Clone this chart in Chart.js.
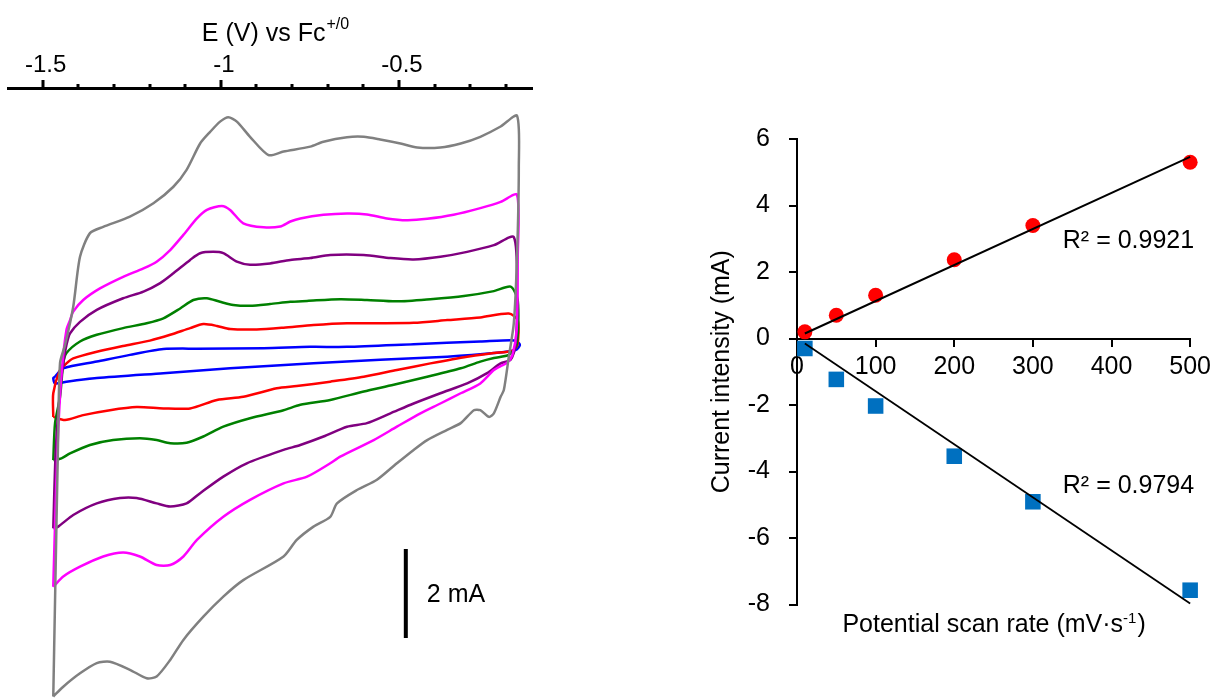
<!DOCTYPE html>
<html>
<head>
<meta charset="utf-8">
<script src="https://cdn.jsdelivr.net/npm/chart.js@4.4.0/dist/chart.umd.min.js"></script>
<style>
  body { margin: 0; background: #fff; }
  #cv { position: absolute; left: 0; top: 0; }
  #rate { position: absolute; left: 640px; top: 0; }
</style>
</head>
<body>
<canvas id="cv" width="560" height="698"></canvas>
<canvas id="rate" width="578" height="698"></canvas>
<script>
// cyclic voltammograms, [E (V vs Fc), I (mA)] walked round each loop
var cvGray = [[-1.470,-7.77],[-1.465,-5.61],[-1.457,-2.24],[-1.451,-0.29],[-1.437,0.11],[-1.414,0.97],[-1.395,2.09],[-1.367,2.62],[-1.330,2.76],[-1.255,2.99],[-1.189,3.29],[-1.133,3.66],[-1.096,4.04],[-1.058,4.63],[-1.030,4.89],[-1.002,5.12],[-0.979,5.22],[-0.955,5.12],[-0.918,4.78],[-0.866,4.37],[-0.824,4.45],[-0.749,4.56],[-0.712,4.67],[-0.646,4.77],[-0.599,4.78],[-0.553,4.72],[-0.496,4.63],[-0.449,4.54],[-0.384,4.54],[-0.327,4.63],[-0.272,4.78],[-0.215,5.01],[-0.169,5.25],[-0.164,4.11],[-0.169,2.09],[-0.178,0.60],[-0.192,-0.15],[-0.206,-0.90],[-0.215,-1.05],[-0.234,-1.42],[-0.248,-1.50],[-0.272,-1.35],[-0.290,-1.35],[-0.327,-1.64],[-0.365,-1.79],[-0.421,-2.02],[-0.459,-2.24],[-0.506,-2.54],[-0.562,-2.91],[-0.618,-3.14],[-0.674,-3.44],[-0.693,-3.74],[-0.740,-3.96],[-0.787,-4.26],[-0.824,-4.63],[-0.937,-5.16],[-0.993,-5.53],[-1.049,-5.98],[-1.105,-6.50],[-1.142,-6.95],[-1.180,-7.32],[-1.208,-7.36],[-1.255,-7.17],[-1.311,-6.99],[-1.348,-7.02],[-1.395,-7.25],[-1.442,-7.55],[-1.470,-7.77]];
var cvMagenta = [[-1.470,-5.31],[-1.463,-3.36],[-1.456,-1.79],[-1.446,-0.45],[-1.433,0.45],[-1.423,0.67],[-1.414,0.86],[-1.386,1.12],[-1.339,1.38],[-1.274,1.64],[-1.217,1.83],[-1.180,1.98],[-1.142,2.24],[-1.105,2.58],[-1.067,2.95],[-1.039,3.14],[-0.997,3.23],[-0.974,3.14],[-0.937,2.84],[-0.880,2.75],[-0.833,2.77],[-0.805,2.88],[-0.777,2.95],[-0.712,3.03],[-0.646,3.06],[-0.590,3.04],[-0.534,2.95],[-0.478,2.91],[-0.421,2.94],[-0.347,3.03],[-0.272,3.18],[-0.215,3.32],[-0.169,3.48],[-0.167,2.09],[-0.170,0.45],[-0.182,-0.11],[-0.197,-0.29],[-0.215,-0.36],[-0.234,-0.45],[-0.272,-0.75],[-0.327,-0.97],[-0.384,-1.20],[-0.440,-1.42],[-0.506,-1.72],[-0.571,-2.02],[-0.665,-2.39],[-0.693,-2.54],[-0.758,-2.84],[-0.824,-2.99],[-0.918,-3.36],[-0.993,-3.74],[-1.067,-4.26],[-1.105,-4.63],[-1.142,-4.82],[-1.180,-4.82],[-1.227,-4.63],[-1.274,-4.54],[-1.330,-4.63],[-1.395,-4.86],[-1.442,-5.08],[-1.470,-5.31]];
var cvPurple = [[-1.470,-4.00],[-1.463,-2.24],[-1.451,-0.90],[-1.442,-0.30],[-1.433,0.11],[-1.423,0.37],[-1.395,0.63],[-1.348,0.90],[-1.274,1.16],[-1.217,1.31],[-1.170,1.50],[-1.133,1.72],[-1.086,2.02],[-1.058,2.17],[-1.021,2.20],[-0.993,2.17],[-0.955,1.98],[-0.918,1.91],[-0.862,1.94],[-0.805,2.02],[-0.749,2.06],[-0.693,2.13],[-0.599,2.13],[-0.524,2.06],[-0.459,2.03],[-0.384,2.09],[-0.309,2.20],[-0.234,2.35],[-0.178,2.53],[-0.169,1.35],[-0.173,0.11],[-0.187,-0.22],[-0.215,-0.30],[-0.253,-0.52],[-0.309,-0.75],[-0.384,-0.97],[-0.459,-1.20],[-0.524,-1.42],[-0.590,-1.64],[-0.646,-1.72],[-0.712,-1.94],[-0.777,-2.13],[-0.824,-2.24],[-0.927,-2.54],[-0.993,-2.84],[-1.058,-3.21],[-1.096,-3.44],[-1.142,-3.51],[-1.180,-3.44],[-1.236,-3.32],[-1.283,-3.32],[-1.348,-3.44],[-1.414,-3.70],[-1.456,-3.96],[-1.470,-4.00]];
var cvGreen = [[-1.470,-2.47],[-1.465,-1.64],[-1.451,-1.05],[-1.442,-0.30],[-1.433,-0.07],[-1.395,0.19],[-1.348,0.34],[-1.274,0.49],[-1.208,0.60],[-1.161,0.71],[-1.114,0.93],[-1.077,1.12],[-1.039,1.16],[-1.002,1.08],[-0.965,1.01],[-0.918,0.99],[-0.862,1.03],[-0.805,1.08],[-0.758,1.10],[-0.665,1.14],[-0.590,1.12],[-0.506,1.09],[-0.412,1.14],[-0.318,1.21],[-0.234,1.32],[-0.187,1.42],[-0.167,1.12],[-0.170,0.11],[-0.192,-0.11],[-0.234,-0.18],[-0.272,-0.26],[-0.327,-0.41],[-0.421,-0.60],[-0.515,-0.78],[-0.599,-0.93],[-0.693,-1.12],[-0.777,-1.23],[-0.824,-1.35],[-0.918,-1.53],[-0.993,-1.72],[-1.049,-1.94],[-1.096,-2.08],[-1.142,-2.09],[-1.180,-2.02],[-1.227,-1.98],[-1.302,-2.02],[-1.367,-2.13],[-1.423,-2.32],[-1.447,-2.43],[-1.470,-2.47]];
var cvRed = [[-1.470,-1.50],[-1.470,-0.97],[-1.451,-0.45],[-1.433,-0.30],[-1.414,-0.19],[-1.348,-0.04],[-1.274,0.09],[-1.199,0.21],[-1.142,0.34],[-1.086,0.49],[-1.049,0.58],[-1.011,0.54],[-0.974,0.47],[-0.899,0.46],[-0.824,0.50],[-0.740,0.56],[-0.646,0.60],[-0.553,0.60],[-0.459,0.61],[-0.365,0.67],[-0.272,0.73],[-0.192,0.82],[-0.167,0.67],[-0.168,0.11],[-0.183,-0.02],[-0.234,-0.07],[-0.309,-0.15],[-0.412,-0.30],[-0.506,-0.45],[-0.599,-0.60],[-0.693,-0.71],[-0.787,-0.81],[-0.843,-0.86],[-0.937,-1.05],[-1.011,-1.12],[-1.086,-1.31],[-1.161,-1.31],[-1.236,-1.28],[-1.311,-1.35],[-1.386,-1.46],[-1.437,-1.57],[-1.470,-1.50]];
var cvBlue = [[-1.465,-0.60],[-1.442,-0.41],[-1.348,-0.26],[-1.255,-0.11],[-1.161,0.02],[-1.067,0.03],[-0.880,0.04],[-0.749,0.07],[-0.646,0.07],[-0.459,0.13],[-0.272,0.19],[-0.187,0.22],[-0.169,0.19],[-0.161,0.11],[-0.173,0.00],[-0.234,-0.07],[-0.365,-0.15],[-0.553,-0.22],[-0.740,-0.30],[-0.833,-0.34],[-0.974,-0.41],[-1.161,-0.52],[-1.348,-0.63],[-1.433,-0.71],[-1.465,-0.75],[-1.470,-0.63],[-1.465,-0.60]];
var scaleBar = [[-0.481, -4.46], [-0.481, -6.46]]; // 2 mA

// peak current vs scan rate
var scanRates = [10, 50, 100, 200, 300, 500];
var anodicPeak = [0.2, 0.7, 1.3, 2.37, 3.4, 5.3];
var cathodicPeak = [-0.3, -1.23, -2.03, -3.54, -4.91, -7.57];
var fitRange = [10, 500];
var anodicFit = [0.15, 5.46];
var cathodicFit = [-0.15, -7.97];
var r2Labels = ['R\u00b2 = 0.9921', 'R\u00b2 = 0.9794'];

var FONT = '"Liberation Sans", Arial, sans-serif';
Chart.defaults.font.family = FONT;
Chart.defaults.color = '#000';

var toXY = function(arr) { return arr.map(function(p) { return {x: p[0], y: p[1]}; }); };
var loop = function(arr, color) {
  return {data: toXY(arr), showLine: true, borderColor: color, borderWidth: 2.5,
          pointRadius: 0, tension: 0.25, fill: false, clip: false};
};

var cvDecor = {
  id: 'cvDecor',
  afterDraw: function(chart) {
    var ctx = chart.ctx, x = chart.scales.x, y = chart.scales.y, a = chart.chartArea;
    ctx.save();
    ctx.fillStyle = '#000';
    // major / minor tick marks above the axis line
    x.ticks.forEach(function(t) {
      var major = Math.round(t.value * 10) % 5 === 0;
      var h = major ? 8 : 4;
      ctx.fillRect(Math.round(x.getPixelForValue(t.value)) - 1.5, a.top - h, 3, h);
    });
    // axis title with superscript
    var main = 'E (V) vs Fc', sup = '+/0';
    ctx.font = '25px ' + FONT;
    var w1 = ctx.measureText(main).width;
    ctx.font = '16px ' + FONT;
    var w2 = ctx.measureText(sup).width;
    var sx = (a.left + a.right) / 2 + 5 - (w1 + w2) / 2;
    ctx.textAlign = 'left';
    ctx.textBaseline = 'alphabetic';
    ctx.font = '25px ' + FONT;
    ctx.fillText(main, sx, 41);
    ctx.font = '16px ' + FONT;
    ctx.fillText(sup, sx + w1 + 1, 29);
    // scale bar label
    ctx.font = '25px ' + FONT;
    ctx.textBaseline = 'middle';
    ctx.fillText('2 mA', x.getPixelForValue(scaleBar[0][0]) + 21,
                 y.getPixelForValue((scaleBar[0][1] + scaleBar[1][1]) / 2) + 2);
    ctx.restore();
  }
};

new Chart(document.getElementById('cv'), {
  type: 'scatter',
  data: {datasets: [
    loop(cvGray, '#808080'), loop(cvMagenta, '#ff00ff'), loop(cvPurple, '#800080'),
    loop(cvGreen, '#008000'), loop(cvRed, '#ff0000'), loop(cvBlue, '#0000ff'),
    {data: toXY(scaleBar), showLine: true, borderColor: '#000', borderWidth: 4, pointRadius: 0, clip: false}
  ]},
  options: {
    responsive: false, animation: false, events: [],
    layout: {padding: {left: 8, right: 28, top: 0, bottom: 0}},
    plugins: {legend: {display: false}, tooltip: {enabled: false}},
    scales: {
      x: {type: 'linear', position: 'top', min: -1.597, max: -0.127,
          afterFit: function(s) { s.height = 88; },
          grid: {display: false, drawTicks: true, tickLength: 8},
          border: {display: true, color: '#000', width: 3},
          ticks: {stepSize: 0.1, includeBounds: false, autoSkip: false, maxRotation: 0, padding: 0,
                  labelOffset: 3, font: {size: 24}, color: '#000',
                  callback: function(v) { var t = Math.round(v * 10); return t % 5 === 0 ? String(t / 10) : ''; }}},
      y: {display: false, min: -7.803, max: 5.874}
    }
  },
  plugins: [cvDecor]
});

var rateDecor = {
  id: 'rateDecor',
  afterDraw: function(chart) {
    var ctx = chart.ctx, a = chart.chartArea, y = chart.scales.y;
    ctx.save();
    ctx.fillStyle = '#000';
    ctx.textAlign = 'left';
    ctx.textBaseline = 'alphabetic';
    var parts = [['Potential scan rate (mV\u00b7s', 25, 0], ['-1', 15, -9], [')', 25, 0]];
    var total = 0;
    parts.forEach(function(p) { ctx.font = p[1] + 'px ' + FONT; p.w = ctx.measureText(p[0]).width; total += p.w; });
    var px = (a.left + a.right) / 2 - total / 2;
    parts.forEach(function(p) {
      ctx.font = p[1] + 'px ' + FONT;
      ctx.fillText(p[0], px, a.bottom + 27 + p[2]);
      px += p.w + (p[1] < 20 ? 1 : 0);
    });
    ctx.font = '25px ' + FONT;
    ctx.textAlign = 'right';
    ctx.fillText(r2Labels[0], a.right + 4, y.getPixelForValue(2.71));
    ctx.fillText(r2Labels[1], a.right + 4, y.getPixelForValue(-4.66));
    ctx.restore();
  }
};

var pts = function(ys) { return scanRates.map(function(r, i) { return {x: r, y: ys[i]}; }); };
var fit = function(ends) { return [{x: fitRange[0], y: ends[0]}, {x: fitRange[1], y: ends[1]}]; };

new Chart(document.getElementById('rate'), {
  type: 'scatter',
  data: {datasets: [
    {data: fit(anodicFit), showLine: true, borderColor: '#000', borderWidth: 2, pointRadius: 0, order: 0, clip: false},
    {data: fit(cathodicFit), showLine: true, borderColor: '#000', borderWidth: 1.8, pointRadius: 0, order: 0, clip: false},
    {data: pts(anodicPeak), pointStyle: 'circle', pointRadius: 7.5, backgroundColor: '#ff0000', borderWidth: 0, order: 1, clip: false},
    {data: pts(cathodicPeak), pointStyle: 'rect', pointRadius: 11, backgroundColor: '#0070c0', borderWidth: 0, order: 1, clip: false}
  ]},
  options: {
    responsive: false, animation: false, events: [],
    layout: {padding: {left: 0, right: 25, top: 139, bottom: 93.5}},
    plugins: {legend: {display: false}, tooltip: {enabled: false}},
    scales: {
      x: {type: 'linear', min: 0, max: 500, position: {y: 0},
          grid: {drawOnChartArea: false, color: '#000', lineWidth: 2, tickLength: 7},
          border: {color: '#000', width: 2},
          ticks: {stepSize: 100, padding: 7, maxRotation: 0, font: {size: 25}, color: '#000'}},
      y: {min: -8, max: 6, afterFit: function(s) { s.width = 157; },
          grid: {drawOnChartArea: false, color: '#000', lineWidth: 2, tickLength: 8},
          border: {color: '#000', width: 2},
          ticks: {stepSize: 2, padding: 19, font: {size: 25}, color: '#000'},
          title: {display: true, text: 'Current intensity (mA)', font: {size: 25}, color: '#000',
                  padding: {top: 67, bottom: 0}}}
    }
  },
  plugins: [rateDecor]
});
</script>
</body>
</html>
